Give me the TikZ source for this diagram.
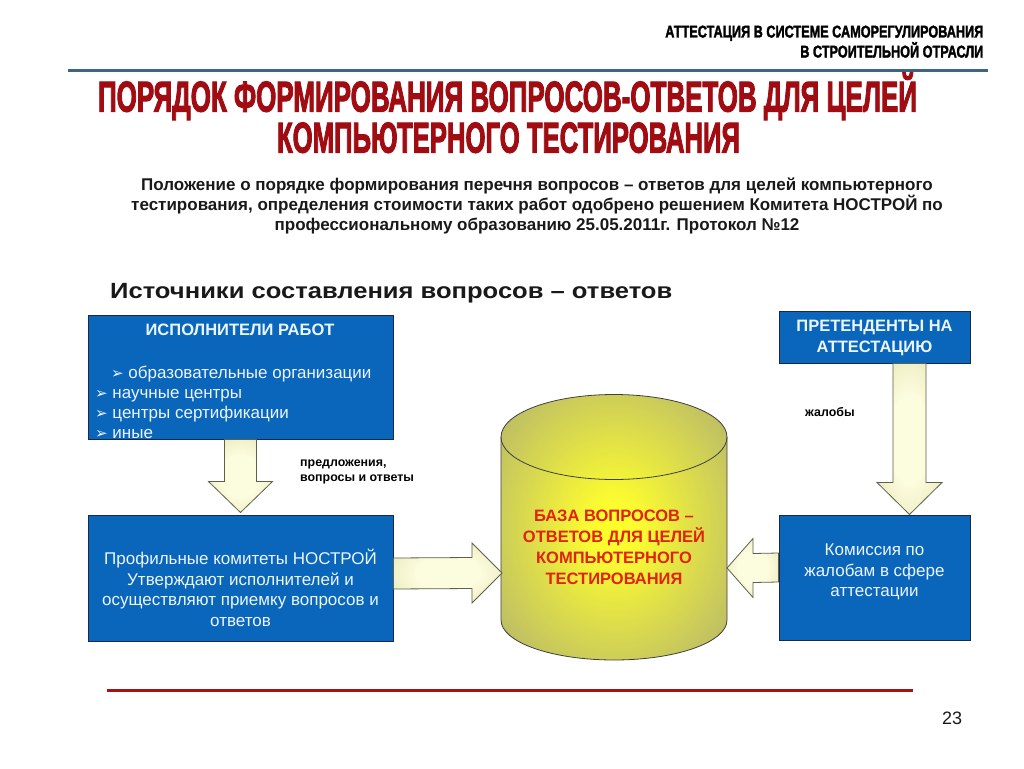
\documentclass[tikz,border=0pt]{standalone}
\usepackage{fontspec}
\usepackage{graphicx}
\setmainfont{Liberation Sans}
\newfontfamily\dejavu{DejaVu Sans}
\newfontfamily\heavyfont[FakeBold=2.2]{Liberation Sans}
\newfontfamily\ttlfont[FakeBold=3]{Liberation Sans}
\usetikzlibrary{calc}
\definecolor{boxblue}{RGB}{10,102,186}
\definecolor{boxline}{RGB}{25,40,75}
\definecolor{boxtxt}{RGB}{235,245,255}
\definecolor{titlered}{RGB}{160,12,18}
\definecolor{steel}{RGB}{62,100,130}
\definecolor{botred}{RGB}{165,20,20}
\definecolor{cylred}{RGB}{225,35,10}
\definecolor{darktext}{RGB}{25,25,25}
\definecolor{arrline}{RGB}{95,95,75}
\definecolor{arrin}{RGB}{252,252,222}
\definecolor{arrout}{RGB}{212,212,150}
\definecolor{cyl1}{RGB}{255,255,40}
\definecolor{cyl2}{RGB}{250,250,50}
\definecolor{cyl3}{RGB}{198,198,95}
\definecolor{cyl4}{RGB}{145,145,110}
\pgfdeclareradialshading{cylshade}{\pgfpoint{0bp}{0bp}}{color(0bp)=(cyl1); color(6bp)=(cyl2); color(28bp)=(cyl3); color(50bp)=(cyl4); color(60bp)=(cyl4)}
\pgfdeclareradialshading{arrshade}{\pgfpoint{0bp}{0bp}}{color(0bp)=(arrin); color(15bp)=(arrin); color(50bp)=(arrout); color(60bp)=(arrout)}
\newcommand\hdrtext[2]{\resizebox{#1}{\height}{\fontsize{17}{17}\selectfont\heavyfont\bfseries #2}}
\newcommand\ttltext[2]{\resizebox{#1}{\height}{\fontsize{43}{43}\selectfont\ttlfont\bfseries #2}}
\newcommand\bul{{\dejavu\fontsize{15}{15}\selectfont ➢}\ }
\begin{document}
\begin{tikzpicture}[x=1pt,y=-1pt,
  bluebox/.style={draw=boxline, line width=1pt, fill=boxblue, inner sep=0pt},
  boxtext/.style={text=boxtxt, font=\fontsize{17}{20.5}\selectfont, align=center, inner sep=0pt},
  boxhead/.style={text=boxtxt, font=\fontsize{16.5}{21}\selectfont\bfseries, align=center, inner sep=0pt},
  bultext/.style={text=boxtxt, font=\fontsize{17}{20}\selectfont, anchor=base west, inner sep=0pt},
  smalllabel/.style={text=black, font=\fontsize{12.4}{15.5}\selectfont\bfseries, align=left, anchor=west, inner sep=0pt},
  blockarrow/.style={draw=arrline, line width=0.8pt, shading=arrshade},
]
\useasboundingbox (0,0) rectangle (1024,768);
\fill[white] (0,0) rectangle (1024,768);

% header
\node[inner sep=0pt, anchor=base east, text=black] (hdr1) at (983.5,37.5) {\hdrtext{318pt}{АТТЕСТАЦИЯ В СИСТЕМЕ САМОРЕГУЛИРОВАНИЯ}};
\node[inner sep=0pt, anchor=base east, text=black] (hdr2) at (983.5,57.5) {\hdrtext{183pt}{В СТРОИТЕЛЬНОЙ ОТРАСЛИ}};
\draw[steel, line width=3pt] (68,70) -- (988,70);

% title
\node[inner sep=0pt, anchor=base, text=titlered] (title1) at (507.5,111.5) {\ttltext{819pt}{ПОРЯДОК ФОРМИРОВАНИЯ ВОПРОСОВ-ОТВЕТОВ ДЛЯ ЦЕЛЕЙ}};
\node[inner sep=0pt, anchor=base, text=titlered] (title2) at (508.5,152.5) {\ttltext{463pt}{КОМПЬЮТЕРНОГО ТЕСТИРОВАНИЯ}};

% paragraph
\node[font=\fontsize{17}{20}\selectfont\bfseries, align=center, text=darktext, inner sep=0pt] (para) at (537,206)
 {Положение о порядке формирования перечня вопросов – ответов для целей компьютерного\\
  тестирования, определения стоимости таких работ одобрено решением Комитета НОСТРОЙ по\\
  профессиональному образованию 25.05.2011г. Протокол №12};

\node[inner sep=0pt, text=darktext, anchor=base west] (sources) at (110,298)
 {\resizebox{562pt}{\height}{\fontsize{22}{26}\selectfont\bfseries Источники составления вопросов – ответов}};

% boxes
\node[bluebox, minimum width=305pt, minimum height=124pt] (b1) at (240.5,377) {};
\node[boxhead] (b1head) at (240,330) {ИСПОЛНИТЕЛИ РАБОТ};
\node[bultext] (b1l1) at (111,378) {\bul образовательные организации};
\node[bultext] (b1l2) at (95,398) {\bul научные центры};
\node[bultext] (b1l3) at (95,418) {\bul центры сертификации};
\begin{scope}
\clip (88,300) rectangle (393,439);
\node[bultext] (b1l4) at (95,438) {\bul иные};
\end{scope}

\node[bluebox, minimum width=305pt, minimum height=126pt] (b2) at (240.5,578) {};
\node[boxtext] (b2t) at (240.5,588) {Профильные комитеты НОСТРОЙ\\Утверждают исполнителей и\\осуществляют приемку вопросов и\\ответов};

\node[bluebox, minimum width=191pt, minimum height=52pt] (b3) at (874.5,337) {};
\node[boxhead] (b3t) at (874.5,338) {ПРЕТЕНДЕНТЫ НА\\АТТЕСТАЦИЮ};

\node[bluebox, minimum width=191pt, minimum height=125pt] (b4) at (874.5,577.5) {};
\node[boxtext] (b4t) at (874.5,572) {Комиссия по\\жалобам в сфере\\аттестации};

% cylinder
\coordinate (cyl) at (614,527);
\path[draw=black!75, line width=0.8pt, shading=cylshade]
  (501,437) -- (501,620) arc[start angle=180, end angle=0, x radius=113, y radius=40]
  -- (727,437) arc[start angle=0, end angle=-180, x radius=113, y radius=42.5] -- cycle;
\draw[black!75, line width=0.8pt] (501,437) arc[start angle=180, end angle=0, x radius=113, y radius=42.5];
\coordinate (cylL) at (502,573);
\coordinate (cylR) at (727,568);
\node[font=\fontsize{16.5}{21}\selectfont\bfseries, text=cylred, align=center, inner sep=0pt] (cyltext) at (614,547)
 {БАЗА ВОПРОСОВ –\\ОТВЕТОВ ДЛЯ ЦЕЛЕЙ\\КОМПЬЮТЕРНОГО\\ТЕСТИРОВАНИЯ};

% block arrows
\coordinate (a1s) at (b1.south);
\coordinate (a1t) at ($(b2.north)+(0,-2)$);
\path[blockarrow] ($(a1s)+(-16,0)$) -- ($(a1t)+(-16,-31)$) -- ($(a1t)+(-32,-31)$) -- (a1t)
  -- ($(a1t)+(32,-31)$) -- ($(a1t)+(16,-31)$) -- ($(a1s)+(16,0)$) -- cycle;

\coordinate (a2s) at ($(b3.south)+(35,0)$);
\coordinate (a2t) at ($(b4.north)+(35,0)$);
\path[blockarrow] ($(a2s)+(-16.5,0)$) -- ($(a2t)+(-16.5,-32)$) -- ($(a2t)+(-32.5,-32)$) -- (a2t)
  -- ($(a2t)+(32.5,-32)$) -- ($(a2t)+(16.5,-32)$) -- ($(a2s)+(16.5,0)$) -- cycle;

\coordinate (a3s) at ($(b2.east)+(0,-4.5)$);
\path[blockarrow] ($(a3s)+(0,-15.5)$) -- ($(cylL)+(-30,-15.5)$) -- ($(cylL)+(-30,-30)$) -- (cylL)
  -- ($(cylL)+(-30,30)$) -- ($(cylL)+(-30,15.5)$) -- ($(a3s)+(0,15.5)$) -- cycle;

\coordinate (a4s) at ($(b4.west)+(0,-10)$);
\path[blockarrow] ($(a4s)+(0,-14.5)$) -- ($(cylR)+(26,-14.5)$) -- ($(cylR)+(26,-29.5)$) -- (cylR)
  -- ($(cylR)+(26,29.5)$) -- ($(cylR)+(26,14.5)$) -- ($(a4s)+(0,14.5)$) -- cycle;

% labels
\node[smalllabel] (lab1) at (300,472) {предложения,\\вопросы и ответы};
\node[smalllabel] (lab2) at (805,412) {жалобы};

% bottom
\draw[botred, line width=3pt] (107,690) -- (913,690);
\node[font=\fontsize{18}{18}\selectfont, text=darktext, inner sep=0pt] (pagenum) at (952,718) {23};
\end{tikzpicture}
\end{document}
